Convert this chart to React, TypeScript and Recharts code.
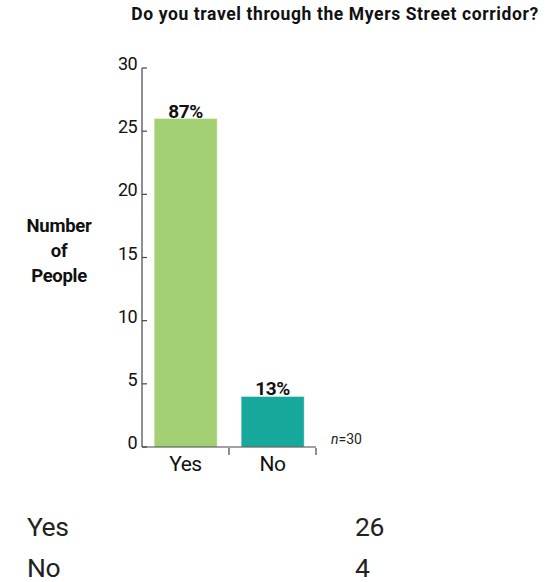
import React from "react";
import { BarChart, Bar, XAxis, YAxis, Cell, LabelList } from "recharts";

const categories = ["Yes", "No"];
const counts = [26, 4];
const yTicks = [0, 5, 10, 15, 20, 25, 30];
const barColors = ["#a3d073", "#17a89c"];
const sampleSize = 30;

const data = categories.map((c, i) => ({ name: c, value: counts[i] }));
const total = counts.reduce((a, b) => a + b, 0);

const font = "Roboto, 'Noto Sans', sans-serif";
const halfBand = 87;
const axisX = 142;

const XTick = (props: any) => {
  const { x, y, payload } = props;
  return (
    <g>
      <line x1={x + halfBand / 2} x2={x + halfBand / 2} y1={y} y2={y - 7} stroke="#444" strokeWidth={1.2} />
      <text
        x={x}
        y={y + 16}
        textAnchor="middle"
        fontSize={21}
        fill="#111"
        fontFamily={font}
        style={{ letterSpacing: -0.5 }}
      >
        {payload.value}
      </text>
    </g>
  );
};

const YTick = (props: any) => {
  const { y, payload } = props;
  return (
    <g>
      <line x1={axisX} x2={axisX + 5} y1={y} y2={y} stroke="#444" strokeWidth={1.2} />
      <text
        x={axisX - 5}
        y={y + 2}
        textAnchor="end"
        fill="#111"
        fontFamily={font}
        style={{ fontSize: 18, letterSpacing: -0.6 }}
      >
        {payload.value}
      </text>
    </g>
  );
};

const App = () => {
  return (
    <div style={{ position: "absolute", left: 0, top: 0, width: 555, height: 582, fontFamily: font, background: "#fff" }}>
      <div
        style={{
          position: "absolute",
          left: 125,
          top: 4,
          width: 420,
          textAlign: "center",
          fontWeight: 700,
          fontSize: 17.5,
          letterSpacing: 0.6,
          color: "#111",
        }}
      >
        Do you travel through the Myers Street corridor?
      </div>
      <div
        style={{
          position: "absolute",
          left: 9,
          top: 214,
          width: 100,
          textAlign: "center",
          fontWeight: 700,
          fontSize: 18.5,
          lineHeight: "25px",
          letterSpacing: -0.3,
          color: "#111",
        }}
      >
        Number
        <br />
        of
        <br />
        People
      </div>
      <div style={{ position: "absolute", left: 331, top: 431, fontSize: 14, color: "#222" }}>
        <i>n</i>={sampleSize}
      </div>
      <div style={{ position: "absolute", left: 0, top: 0 }}>
        <BarChart
          width={555}
          height={480}
          data={data}
          margin={{ top: 68, right: 239, bottom: 0, left: 0 }}
          barCategoryGap="14%"
        >
          <XAxis
            dataKey="name"
            height={33}
            axisLine={{ stroke: "#444", strokeWidth: 1.2 }}
            tickLine={false}
            tick={<XTick />}
            interval={0}
          />
          <YAxis
            width={axisX}
            domain={[0, 30]}
            ticks={yTicks}
            interval={0}
            axisLine={{ stroke: "#444", strokeWidth: 1.2 }}
            tickLine={false}
            tick={<YTick />}
          />
          <Bar dataKey="value" isAnimationActive={false} stroke="#ffffff" strokeOpacity={0.4}>
            {data.map((d, i) => (
              <Cell key={d.name} fill={barColors[i]} />
            ))}
            <LabelList
              dataKey="value"
              position="top"
              offset={1}
              formatter={(v: any) => `${Math.round((Number(v) / total) * 100)}%`}
              style={{ fontSize: 19, fontWeight: 700, fill: "#111", fontFamily: font, letterSpacing: -0.4 }}
            />
          </Bar>
        </BarChart>
      </div>
      <table
        style={{
          position: "absolute",
          left: 24,
          top: 506,
          borderCollapse: "collapse",
          fontSize: 26.5,
          color: "#222",
        }}
      >
        <tbody>
          {categories.map((c, i) => (
            <tr key={c}>
              <td style={{ width: 322, padding: "0 3px", lineHeight: "41px", letterSpacing: -0.5 }}>{c}</td>
              <td style={{ padding: "0 3px", lineHeight: "41px", letterSpacing: -0.5 }}>{counts[i]}</td>
            </tr>
          ))}
        </tbody>
      </table>
    </div>
  );
};

export default App;
